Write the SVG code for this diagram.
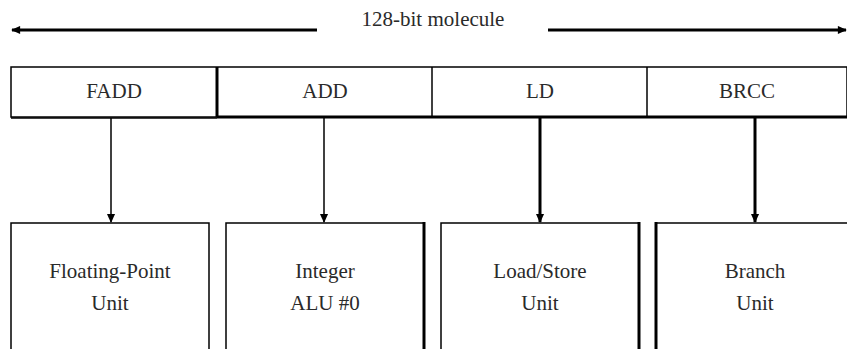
<svg xmlns="http://www.w3.org/2000/svg" width="847" height="349" viewBox="0 0 847 349">
<style>
text{font-size:21px;fill:#2a2a2a;text-anchor:middle}
.thin{stroke:#000;stroke-width:1.5;fill:none}
.thick{stroke:#000;stroke-width:3;fill:none}
</style>
<defs>
<marker id="ah" viewBox="0 0 10 10" refX="9" refY="5" markerWidth="10" markerHeight="9" markerUnits="userSpaceOnUse" orient="auto">
<path d="M0,0.5 L10,5 L0,9.5 Z" fill="#000"/>
</marker>
</defs>
<rect width="847" height="349" fill="#fff"/>
<g font-family="Liberation Serif, Times New Roman, DejaVu Serif, serif">
<g id="width-label">
<text x="433" y="26">128-bit molecule</text>
</g>
<g id="molecule">
<rect x="11" y="67" width="836" height="50" class="thin"/>
<line x1="11" y1="118" x2="217" y2="118" class="thin"/>
<line x1="217" y1="117" x2="847" y2="117" class="thick"/>
<line x1="217" y1="67" x2="217" y2="117" class="thick"/>
<line x1="432" y1="67" x2="432" y2="117" class="thin"/>
<line x1="647" y1="67" x2="647" y2="117" class="thin"/>
<text x="114" y="98">FADD</text>
<text x="325" y="98">ADD</text>
<text x="540" y="98">LD</text>
<text x="747" y="98">BRCC</text>
</g>
<g id="fpu">
<path d="M11,349 V223 H209 V349" class="thin"/>
<text x="110" y="278">Floating-Point</text>
<text x="110" y="310">Unit</text>
</g>
<g id="alu">
<path d="M226,349 V223 H423" class="thin"/>
<line x1="424" y1="222" x2="424" y2="349" class="thick"/>
<text x="325" y="278">Integer</text>
<text x="325" y="310">ALU #0</text>
</g>
<g id="lsu">
<path d="M441,349 V223 H638" class="thin"/>
<line x1="639" y1="222" x2="639" y2="349" class="thick"/>
<text x="540" y="278">Load/Store</text>
<text x="540" y="310">Unit</text>
</g>
<g id="bru">
<line x1="656" y1="222" x2="656" y2="349" class="thick"/>
<path d="M656,223 H847" class="thin"/>
<text x="755" y="278">Branch</text>
<text x="755" y="310">Unit</text>
</g>
</g>
<g id="connectors">
<line x1="317" y1="30" x2="12" y2="30" class="thick" marker-end="url(#ah)"/>
<line x1="548" y1="30" x2="846" y2="30" class="thick" marker-end="url(#ah)"/>
<line x1="111" y1="118" x2="111" y2="222" class="thin" marker-end="url(#ah)"/>
<line x1="324" y1="118" x2="324" y2="222" class="thin" marker-end="url(#ah)"/>
<line x1="540" y1="118" x2="540" y2="222" class="thick" marker-end="url(#ah)"/>
<line x1="755" y1="118" x2="755" y2="222" class="thick" marker-end="url(#ah)"/>
</g>
</svg>
